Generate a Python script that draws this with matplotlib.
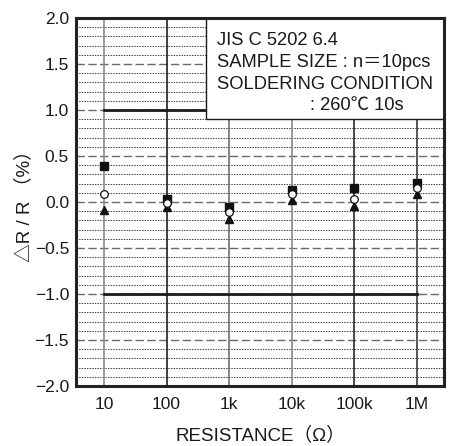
import numpy as np
import matplotlib
matplotlib.use('Agg')
import matplotlib.pyplot as plt
from matplotlib.patches import Rectangle

plt.rcParams['font.family'] = ['Liberation Sans', 'Noto Sans CJK JP', 'DejaVu Sans']

# resistance values (categorical, one decade apart)
resistances = ['10', '100', '1k', '10k', '100k', '1M']
dr_max = [0.39, 0.03, -0.05, 0.13, 0.15, 0.21]
dr_avg = [0.085, -0.01, -0.105, 0.085, 0.035, 0.15]
dr_min = [-0.085, -0.055, -0.18, 0.025, -0.04, 0.09]

y_ticks = [-2.0, -1.5, -1.0, -0.5, 0.0, 0.5, 1.0, 1.5, 2.0]
y_ticklabels = ['\u22122.0', '\u22121.5', '\u22121.0', '\u22120.5', '0.0', '0.5', '1.0', '1.5', '2.0']
limit = 1.0

note_lines = ['JIS C 5202 6.4',
              'SAMPLE SIZE : n\uff1d10pcs',
              'SOLDERING CONDITION',
              ': 260\u2103 10s']

vline_colors = ['#8a8a8a', '#1e1e1e', '#6e6e6e', '#8a8a8a', '#2a2a2a', '#3a3a3a']

fig = plt.figure(figsize=(4.5, 4.46), dpi=100)
ax = fig.add_axes([76/450, 1-386/446, (444-76)/450, (386-18)/446])

x = np.arange(len(resistances))
xmin, xmax = -0.447, 5.43
ax.set_xlim(xmin, xmax)
ax.set_ylim(-2.0, 2.0)

# fine dotted grid every 0.1
for v in np.arange(-19, 20) / 10.0:
    if abs(round(v * 10)) % 5 == 0:
        continue
    ax.axhline(v, color='#444444', lw=0.7, ls=(0, (1.5, 1.2)), zorder=1)
# dashed lines every 0.5
for v in [-1.5, -1.0, -0.5, 0.0, 0.5, 1.0, 1.5]:
    ax.axhline(v, color='#6a6a6a', lw=1.0, ls=(0, (6, 2.5)), zorder=1.5)
# vertical lines at each resistance
for xi, c in zip(x, vline_colors):
    ax.axvline(xi, color=c, lw=1.2, zorder=2)

# limit lines
ax.plot([x[0], x[-1]], [limit, limit], color='#1a1a1a', lw=2.0, zorder=3)
ax.plot([x[0], x[-1]], [-limit, -limit], color='#1a1a1a', lw=2.0, zorder=3)

# note box
box_left = 1.63
ax.add_patch(Rectangle((box_left, 0.905), xmax - box_left, 2.0 - 0.905,
                       facecolor='white', edgecolor='#1a1a1a', lw=1.0, zorder=4))
for i, line in enumerate(note_lines):
    xt = 1.80 if i < 3 else 3.29
    ax.text(xt, 1.75 - i * 0.235, line, fontsize=13.2, va='center', ha='left',
            color='#1a1a1a', zorder=5)

# data
ax.plot(x, dr_max, ls='none', marker='s', ms=5.5, mfc='#111111', mec='#111111', zorder=6)
ax.plot(x, dr_avg, ls='none', marker='o', ms=5.5, mfc='white', mec='#111111', mew=0.9, zorder=7)
ax.plot(x, dr_min, ls='none', marker='^', ms=5.5, mfc='#111111', mec='#111111', zorder=6)

ax.set_xticks(x)
ax.set_xticklabels(resistances, fontsize=12.5, color='#1a1a1a')
ax.set_yticks(y_ticks)
ax.set_yticklabels(y_ticklabels, fontsize=12.5, color='#1a1a1a')
ax.tick_params(axis='both', length=0)
ax.tick_params(axis='x', pad=8)
ax.tick_params(axis='y', pad=5)

for s in ax.spines.values():
    s.set_linewidth(2.2)
    s.set_color('#222222')
    s.set_zorder(8)

ax.set_xlabel('RESISTANCE\uff08\u03a9\uff09', fontsize=13.5, color='#1a1a1a', labelpad=10)
ax.set_ylabel('\u25b3R / R \uff08%\uff09', fontsize=13.5, color='#1a1a1a')
ax.yaxis.set_label_coords(-0.117, 0.5)

fig.savefig('out.png', dpi=100)
